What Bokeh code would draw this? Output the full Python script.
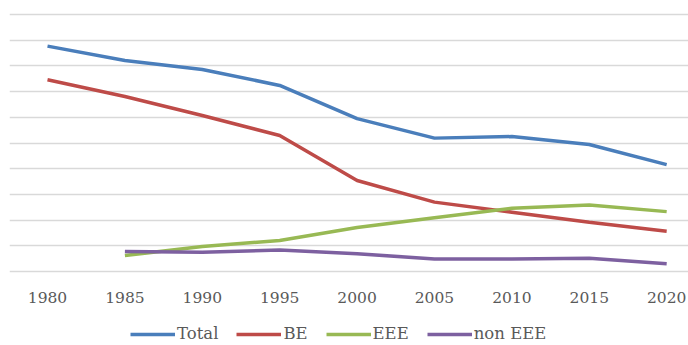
from bokeh.plotting import figure
from bokeh.models import FixedTicker, Legend, LegendItem, Range1d, Grid
from bokeh.core.properties import value
from bokeh.embed import file_html
from bokeh.resources import INLINE

years = [1980, 1985, 1990, 1995, 2000, 2005, 2010, 2015, 2020]
year_labels = ["1980", "1985", "1990", "1995", "2000", "2005", "2010", "2015", "2020"]
total = [8.77, 8.21, 7.86, 7.24, 5.95, 5.19, 5.25, 4.94, 4.16]
be = [7.46, 6.81, 6.07, 5.29, 3.54, 2.70, 2.31, 1.92, 1.57]
eee_years = [1985, 1990, 1995, 2000, 2005, 2010, 2015, 2020]
eee = [0.62, 0.97, 1.21, 1.71, 2.09, 2.46, 2.59, 2.33]
non_eee = [0.78, 0.75, 0.84, 0.69, 0.49, 0.49, 0.52, 0.30]
grid_levels = [0, 1, 2, 3, 4, 5, 6, 7, 8, 9, 10]

FONT = "DejaVu Serif"
TXT = "#595959"

p = figure(width=688, height=345, output_backend="svg", toolbar_location=None,
           x_range=Range1d(1977.545, 2021.41), y_range=Range1d(-2.879, 10.545),
           x_axis_type=None, y_axis_type=None,
           min_border_left=9, min_border_right=0, min_border_top=0,
           min_border_bottom=0)
p.outline_line_color = None
p.background_fill_color = "white"
p.border_fill_color = "white"

p.add_layout(Grid(dimension=1, ticker=FixedTicker(ticks=grid_levels),
                  grid_line_color="#d9d9d9", grid_line_width=1.5))

# category labels under the zero line
p.text(x=years, y=[-1.01] * len(years), text=year_labels,
       text_font=value(FONT), text_font_size="15.5px", text_color=TXT,
       text_align="center", text_baseline="middle")

r1 = p.line(years, total, line_color="#4A7EBB", line_width=3.5)
r2 = p.line(years, be, line_color="#BE4B48", line_width=3.5)
r3 = p.line(eee_years, eee, line_color="#98B954", line_width=3.5)
r4 = p.line(eee_years, non_eee, line_color="#7D60A0", line_width=3.5)

legend = Legend(items=[LegendItem(label="Total", renderers=[r1]),
                       LegendItem(label="BE", renderers=[r2]),
                       LegendItem(label="EEE", renderers=[r3]),
                       LegendItem(label="non EEE", renderers=[r4])],
                orientation="horizontal", location=(121, 2),
                glyph_width=45, glyph_height=18, label_standoff=2, spacing=18,
                label_text_font=FONT, label_text_font_size="16.5px",
                label_text_color=TXT, border_line_color=None,
                background_fill_alpha=0, padding=0, margin=0)
p.add_layout(legend, "center")

open("out.html", "w").write(file_html(p, INLINE))
